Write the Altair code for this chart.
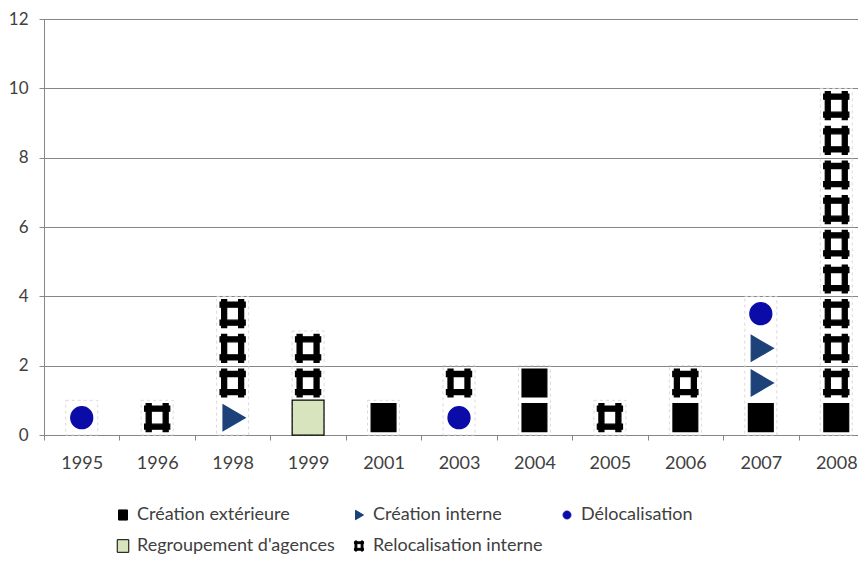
import altair as alt
import pandas as pd

# ---- data ----
years = ["1995", "1996", "1998", "1999", "2001", "2003", "2004", "2005", "2006", "2007", "2008"]
types = ["Création extérieure", "Création interne", "Délocalisation",
         "Regroupement d'agences", "Relocalisation interne"]
creation_exterieure = [0, 0, 0, 0, 1, 0, 2, 0, 1, 1, 1]
creation_interne = [0, 0, 1, 0, 0, 0, 0, 0, 0, 2, 0]
delocalisation = [1, 0, 0, 0, 0, 1, 0, 0, 0, 1, 0]
regroupement = [0, 0, 0, 1, 0, 0, 0, 0, 0, 0, 0]
relocalisation = [0, 1, 3, 2, 0, 1, 0, 1, 1, 0, 9]

series = [creation_exterieure, creation_interne, delocalisation, regroupement, relocalisation]

# one row per unit (pictogram stacking)
rows = []
for i, yr in enumerate(years):
    level = 0
    for t, s in zip(types, series):
        for _ in range(s[i]):
            rows.append({"annee": yr, "type": t, "mid": level + 0.5, "un": 1})
            level += 1
df = pd.DataFrame(rows)

# ---- symbol styles ----
sq = "M-0.71,-0.8H0.71V0.8H-0.71Z"
tri = "M-0.55,-0.74L0.72,0L-0.55,0.74Z"
circ = "M0.63,0A0.63,0.63,0,1,1,-0.63,0A0.63,0.63,0,1,1,0.63,0Z"
green = "M-0.91,-1H0.91V1H-0.91Z"
hashp = ("M-0.63,-0.8H-0.34V0.8H-0.63Z"
         "M0.34,-0.8H0.63V0.8H0.34Z"
         "M-0.72,-0.66H0.72V-0.37H-0.72Z"
         "M-0.72,0.37H0.72V0.66H-0.72Z")
shapes = [sq, tri, circ, green, hashp]
fills = ["#000000", "#1c4279", "#0b0ba8", "#d7e4bd", "#000000"]
strokes = ["#000000", "#1c4279", "#0b0ba8", "#000000", "#000000"]

FONT = "Lato"

legend = alt.Legend(
    title=None, orient="none", legendX=70, legendY=487, columns=3,
    direction="horizontal", symbolSize=160, symbolStrokeWidth=1,
    labelFont=FONT, labelFontSize=18, labelColor="#404040",
    columnPadding=15, rowPadding=13, labelLimit=400, labelOffset=5,
)

x_enc = alt.X(
    "annee:N", sort=years, title=None,
    scale=alt.Scale(type="band", domain=years, paddingInner=0, paddingOuter=0,
                    range=[0, 830]),
    axis=alt.Axis(labelAngle=0, tickBand="extent", tickSize=5, tickColor="#868686",
                  domainColor="#868686", labelFont=FONT, labelFontSize=18,
                  labelColor="#404040", labelPadding=14, grid=False),
)
y_scale = alt.Scale(domain=[0, 12], nice=False)
y_axis = alt.Axis(values=[0, 2, 4, 6, 8, 10, 12], tickSize=5, tickColor="#868686",
                  domainColor="#868686", gridColor="#868686", grid=True,
                  labelFont=FONT, labelFontSize=17, labelColor="#404040",
                  labelPadding=11)

outline = alt.Chart(df).mark_bar(
    fillOpacity=0, stroke="#dadada", strokeDash=[3, 3], strokeWidth=1, size=32
).encode(
    x=x_enc,
    y=alt.Y("sum(un):Q", scale=y_scale, axis=y_axis, title=None),
)

points = alt.Chart(df).mark_point(
    filled=True, opacity=1, size=1225, strokeWidth=1.2
).encode(
    x=x_enc,
    y=alt.Y("mid:Q", scale=y_scale, axis=y_axis, title=None),
    shape=alt.Shape("type:N", scale=alt.Scale(domain=types, range=shapes), legend=legend),
    fill=alt.Fill("type:N", scale=alt.Scale(domain=types, range=fills), legend=legend),
    stroke=alt.Stroke("type:N", scale=alt.Scale(domain=types, range=strokes), legend=legend),
)

chart = alt.layer(outline, points).properties(
    width=814, height=416,
    autosize=alt.AutoSizeParams(type="none"),
    padding={"left": 36, "top": 11, "right": 0, "bottom": 120},
).configure_view(stroke=None).configure(background="white")

chart.save("out.html", embed_options={"renderer": "svg", "actions": False})
